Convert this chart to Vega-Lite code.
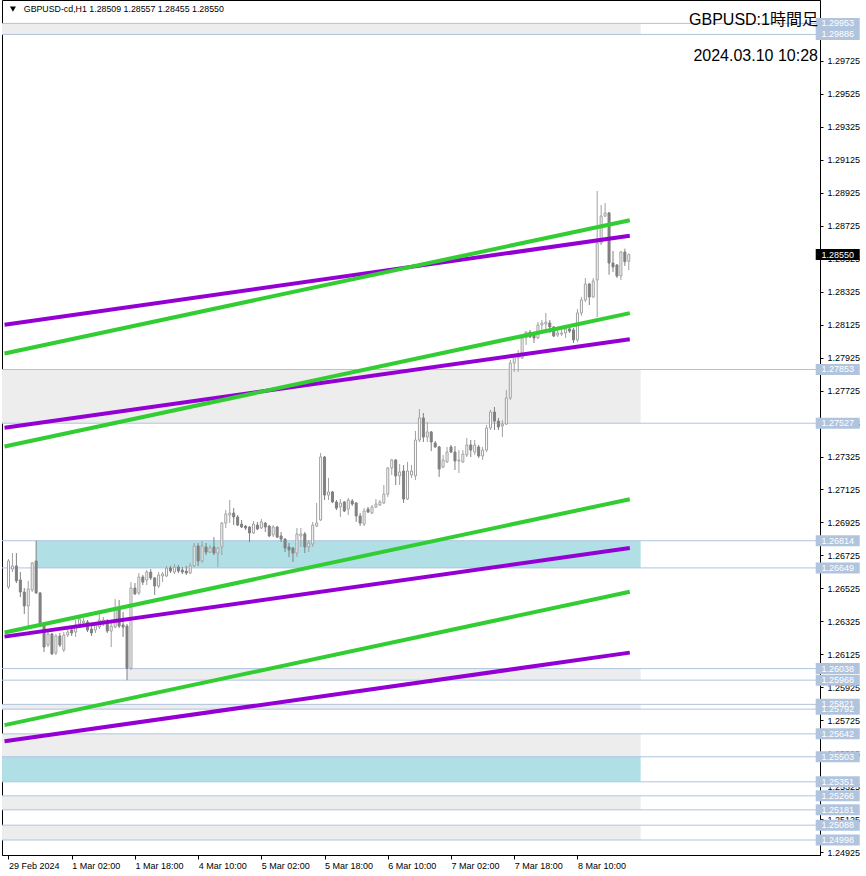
{
"$schema": "https://vega.github.io/schema/vega-lite/v6.json",
"width": 818, "height": 855,
"autosize": {"type": "none"},
"padding": {"left": 2, "top": 0, "right": 46, "bottom": 21},
"background": "white",
"config": {"view": {"stroke": "#000000", "strokeWidth": 1}, "axis": {"zindex": 0, "labelOverlap": false, "labelBound": false, "labelFlush": false, "grid": false, "title": null, "domainColor": "#000000", "tickColor": "#000000", "labelFont": "Liberation Sans", "labelFontSize": 9, "labelColor": "#000000", "tickCount": 200}},
"datasets": {
"candles": [
{"i":0,"o":1.26533,"h":1.26703,"l":1.26521,"c":1.26691},
{"i":1,"o":1.26642,"h":1.26739,"l":1.26624,"c":1.26661},
{"i":2,"o":1.26661,"h":1.26739,"l":1.26557,"c":1.26570},
{"i":3,"o":1.26576,"h":1.26624,"l":1.26472,"c":1.26503},
{"i":4,"o":1.26503,"h":1.26527,"l":1.26369,"c":1.26418},
{"i":5,"o":1.26418,"h":1.26570,"l":1.26290,"c":1.26521},
{"i":6,"o":1.26515,"h":1.26685,"l":1.26503,"c":1.26679},
{"i":7,"o":1.26691,"h":1.26814,"l":1.26491,"c":1.26497},
{"i":8,"o":1.26497,"h":1.26503,"l":1.26290,"c":1.26303},
{"i":9,"o":1.26303,"h":1.26315,"l":1.26139,"c":1.26169},
{"i":10,"o":1.26181,"h":1.26260,"l":1.26169,"c":1.26248},
{"i":11,"o":1.26248,"h":1.26254,"l":1.26120,"c":1.26127},
{"i":12,"o":1.26133,"h":1.26248,"l":1.26120,"c":1.26236},
{"i":13,"o":1.26236,"h":1.26254,"l":1.26169,"c":1.26181},
{"i":14,"o":1.26151,"h":1.26260,"l":1.26139,"c":1.26242},
{"i":15,"o":1.26242,"h":1.26284,"l":1.26230,"c":1.26260},
{"i":16,"o":1.26272,"h":1.26284,"l":1.26236,"c":1.26254},
{"i":17,"o":1.26260,"h":1.26333,"l":1.26230,"c":1.26303},
{"i":18,"o":1.26309,"h":1.26351,"l":1.26296,"c":1.26339},
{"i":19,"o":1.26315,"h":1.26345,"l":1.26303,"c":1.26327},
{"i":20,"o":1.26321,"h":1.26333,"l":1.26260,"c":1.26272},
{"i":21,"o":1.26278,"h":1.26296,"l":1.26236,"c":1.26254},
{"i":22,"o":1.26272,"h":1.26315,"l":1.26254,"c":1.26303},
{"i":23,"o":1.26290,"h":1.26381,"l":1.26278,"c":1.26333},
{"i":24,"o":1.26309,"h":1.26351,"l":1.26296,"c":1.26333},
{"i":25,"o":1.26327,"h":1.26339,"l":1.26254,"c":1.26266},
{"i":26,"o":1.26266,"h":1.26315,"l":1.26169,"c":1.26296},
{"i":27,"o":1.26290,"h":1.26460,"l":1.26284,"c":1.26400},
{"i":28,"o":1.26400,"h":1.26454,"l":1.26284,"c":1.26296},
{"i":29,"o":1.26303,"h":1.26381,"l":1.26230,"c":1.26290},
{"i":30,"o":1.26296,"h":1.26309,"l":1.25968,"c":1.26040},
{"i":31,"o":1.26040,"h":1.26563,"l":1.26030,"c":1.26527},
{"i":32,"o":1.26527,"h":1.26557,"l":1.26485,"c":1.26491},
{"i":33,"o":1.26497,"h":1.26618,"l":1.26485,"c":1.26594},
{"i":34,"o":1.26594,"h":1.26606,"l":1.26545,"c":1.26563},
{"i":35,"o":1.26576,"h":1.26636,"l":1.26545,"c":1.26624},
{"i":36,"o":1.26624,"h":1.26642,"l":1.26576,"c":1.26588},
{"i":37,"o":1.26588,"h":1.26594,"l":1.26485,"c":1.26539},
{"i":38,"o":1.26539,"h":1.26624,"l":1.26527,"c":1.26606},
{"i":39,"o":1.26600,"h":1.26624,"l":1.26563,"c":1.26612},
{"i":40,"o":1.26600,"h":1.26661,"l":1.26594,"c":1.26648},
{"i":41,"o":1.26648,"h":1.26661,"l":1.26618,"c":1.26630},
{"i":42,"o":1.26624,"h":1.26673,"l":1.26612,"c":1.26654},
{"i":43,"o":1.26654,"h":1.26667,"l":1.26618,"c":1.26630},
{"i":44,"o":1.26636,"h":1.26654,"l":1.26612,"c":1.26624},
{"i":45,"o":1.26630,"h":1.26661,"l":1.26606,"c":1.26618},
{"i":46,"o":1.26618,"h":1.26679,"l":1.26612,"c":1.26661},
{"i":47,"o":1.26661,"h":1.26800,"l":1.26654,"c":1.26782},
{"i":48,"o":1.26782,"h":1.26800,"l":1.26661,"c":1.26691},
{"i":49,"o":1.26691,"h":1.26812,"l":1.26679,"c":1.26782},
{"i":50,"o":1.26776,"h":1.26800,"l":1.26727,"c":1.26745},
{"i":51,"o":1.26745,"h":1.26788,"l":1.26739,"c":1.26770},
{"i":52,"o":1.26776,"h":1.26836,"l":1.26727,"c":1.26739},
{"i":53,"o":1.26739,"h":1.26776,"l":1.26654,"c":1.26770},
{"i":54,"o":1.26776,"h":1.26928,"l":1.26727,"c":1.26921},
{"i":55,"o":1.26921,"h":1.27000,"l":1.26891,"c":1.26976},
{"i":56,"o":1.26970,"h":1.27061,"l":1.26921,"c":1.26982},
{"i":57,"o":1.26982,"h":1.27012,"l":1.26909,"c":1.26958},
{"i":58,"o":1.26958,"h":1.26970,"l":1.26903,"c":1.26909},
{"i":59,"o":1.26915,"h":1.26940,"l":1.26891,"c":1.26897},
{"i":60,"o":1.26903,"h":1.26909,"l":1.26879,"c":1.26891},
{"i":61,"o":1.26897,"h":1.26903,"l":1.26806,"c":1.26861},
{"i":62,"o":1.26861,"h":1.26934,"l":1.26855,"c":1.26915},
{"i":63,"o":1.26909,"h":1.26928,"l":1.26879,"c":1.26885},
{"i":64,"o":1.26891,"h":1.26946,"l":1.26885,"c":1.26928},
{"i":65,"o":1.26921,"h":1.26928,"l":1.26867,"c":1.26897},
{"i":66,"o":1.26903,"h":1.26909,"l":1.26836,"c":1.26843},
{"i":67,"o":1.26849,"h":1.26909,"l":1.26836,"c":1.26897},
{"i":68,"o":1.26897,"h":1.26903,"l":1.26830,"c":1.26836},
{"i":69,"o":1.26843,"h":1.26867,"l":1.26806,"c":1.26824},
{"i":70,"o":1.26824,"h":1.26830,"l":1.26745,"c":1.26770},
{"i":71,"o":1.26776,"h":1.26800,"l":1.26715,"c":1.26758},
{"i":72,"o":1.26770,"h":1.26776,"l":1.26685,"c":1.26739},
{"i":73,"o":1.26739,"h":1.26891,"l":1.26715,"c":1.26855},
{"i":74,"o":1.26843,"h":1.26891,"l":1.26776,"c":1.26855},
{"i":75,"o":1.26855,"h":1.26867,"l":1.26739,"c":1.26776},
{"i":76,"o":1.26776,"h":1.26818,"l":1.26745,"c":1.26800},
{"i":77,"o":1.26794,"h":1.26928,"l":1.26776,"c":1.26909},
{"i":78,"o":1.26903,"h":1.27043,"l":1.26897,"c":1.26921},
{"i":79,"o":1.26940,"h":1.27346,"l":1.26934,"c":1.27322},
{"i":80,"o":1.27322,"h":1.27328,"l":1.27061,"c":1.27091},
{"i":81,"o":1.27091,"h":1.27195,"l":1.27061,"c":1.27110},
{"i":82,"o":1.27110,"h":1.27116,"l":1.27043,"c":1.27049},
{"i":83,"o":1.27049,"h":1.27061,"l":1.27000,"c":1.27012},
{"i":84,"o":1.27019,"h":1.27067,"l":1.26958,"c":1.27043},
{"i":85,"o":1.27049,"h":1.27055,"l":1.26988,"c":1.26994},
{"i":86,"o":1.27006,"h":1.27073,"l":1.26970,"c":1.27061},
{"i":87,"o":1.27055,"h":1.27067,"l":1.27025,"c":1.27037},
{"i":88,"o":1.27043,"h":1.27049,"l":1.26928,"c":1.26964},
{"i":89,"o":1.26964,"h":1.26982,"l":1.26903,"c":1.26921},
{"i":90,"o":1.26915,"h":1.27012,"l":1.26903,"c":1.26994},
{"i":91,"o":1.27006,"h":1.27019,"l":1.26982,"c":1.26988},
{"i":92,"o":1.26982,"h":1.27031,"l":1.26976,"c":1.27019},
{"i":93,"o":1.27019,"h":1.27067,"l":1.27012,"c":1.27037},
{"i":94,"o":1.27031,"h":1.27061,"l":1.27025,"c":1.27049},
{"i":95,"o":1.27043,"h":1.27152,"l":1.27037,"c":1.27097},
{"i":96,"o":1.27097,"h":1.27261,"l":1.27079,"c":1.27255},
{"i":97,"o":1.27255,"h":1.27310,"l":1.27213,"c":1.27304},
{"i":98,"o":1.27304,"h":1.27310,"l":1.27152,"c":1.27207},
{"i":99,"o":1.27207,"h":1.27279,"l":1.27152,"c":1.27231},
{"i":100,"o":1.27237,"h":1.27273,"l":1.27043,"c":1.27067},
{"i":101,"o":1.27067,"h":1.27292,"l":1.27061,"c":1.27237},
{"i":102,"o":1.27213,"h":1.27273,"l":1.27195,"c":1.27237},
{"i":103,"o":1.27207,"h":1.27480,"l":1.27182,"c":1.27425},
{"i":104,"o":1.27425,"h":1.27613,"l":1.27413,"c":1.27559},
{"i":105,"o":1.27559,"h":1.27589,"l":1.27413,"c":1.27443},
{"i":106,"o":1.27443,"h":1.27534,"l":1.27413,"c":1.27474},
{"i":107,"o":1.27474,"h":1.27480,"l":1.27358,"c":1.27413},
{"i":108,"o":1.27407,"h":1.27419,"l":1.27377,"c":1.27383},
{"i":109,"o":1.27383,"h":1.27389,"l":1.27201,"c":1.27249},
{"i":110,"o":1.27261,"h":1.27334,"l":1.27255,"c":1.27304},
{"i":111,"o":1.27292,"h":1.27383,"l":1.27286,"c":1.27352},
{"i":112,"o":1.27383,"h":1.27395,"l":1.27346,"c":1.27352},
{"i":113,"o":1.27352,"h":1.27389,"l":1.27243,"c":1.27298},
{"i":114,"o":1.27298,"h":1.27364,"l":1.27225,"c":1.27304},
{"i":115,"o":1.27292,"h":1.27364,"l":1.27286,"c":1.27340},
{"i":116,"o":1.27334,"h":1.27437,"l":1.27322,"c":1.27395},
{"i":117,"o":1.27395,"h":1.27425,"l":1.27322,"c":1.27364},
{"i":118,"o":1.27352,"h":1.27425,"l":1.27334,"c":1.27395},
{"i":119,"o":1.27383,"h":1.27395,"l":1.27316,"c":1.27328},
{"i":120,"o":1.27328,"h":1.27383,"l":1.27304,"c":1.27364},
{"i":121,"o":1.27364,"h":1.27516,"l":1.27352,"c":1.27498},
{"i":122,"o":1.27498,"h":1.27607,"l":1.27486,"c":1.27595},
{"i":123,"o":1.27595,"h":1.27625,"l":1.27486,"c":1.27540},
{"i":124,"o":1.27540,"h":1.27559,"l":1.27486,"c":1.27504},
{"i":125,"o":1.27510,"h":1.27546,"l":1.27443,"c":1.27522},
{"i":126,"o":1.27522,"h":1.27728,"l":1.27516,"c":1.27680},
{"i":127,"o":1.27680,"h":1.27911,"l":1.27668,"c":1.27892},
{"i":128,"o":1.27892,"h":1.27941,"l":1.27838,"c":1.27929},
{"i":129,"o":1.27923,"h":1.27971,"l":1.27838,"c":1.27935},
{"i":130,"o":1.27923,"h":1.28050,"l":1.27917,"c":1.28044},
{"i":131,"o":1.28044,"h":1.28086,"l":1.28002,"c":1.28080},
{"i":132,"o":1.28080,"h":1.28093,"l":1.28044,"c":1.28050},
{"i":133,"o":1.28074,"h":1.28080,"l":1.28014,"c":1.28044},
{"i":134,"o":1.28044,"h":1.28141,"l":1.28038,"c":1.28123},
{"i":135,"o":1.28123,"h":1.28153,"l":1.28074,"c":1.28135},
{"i":136,"o":1.28129,"h":1.28196,"l":1.28093,"c":1.28141},
{"i":137,"o":1.28135,"h":1.28153,"l":1.28074,"c":1.28111},
{"i":138,"o":1.28111,"h":1.28117,"l":1.28050,"c":1.28056},
{"i":139,"o":1.28062,"h":1.28105,"l":1.28050,"c":1.28074},
{"i":140,"o":1.28068,"h":1.28099,"l":1.28056,"c":1.28074},
{"i":141,"o":1.28074,"h":1.28105,"l":1.28044,"c":1.28099},
{"i":142,"o":1.28099,"h":1.28111,"l":1.28074,"c":1.28086},
{"i":143,"o":1.28093,"h":1.28105,"l":1.28014,"c":1.28032},
{"i":144,"o":1.28032,"h":1.28220,"l":1.28020,"c":1.28196},
{"i":145,"o":1.28196,"h":1.28293,"l":1.28178,"c":1.28275},
{"i":146,"o":1.28275,"h":1.28408,"l":1.28262,"c":1.28372},
{"i":147,"o":1.28372,"h":1.28378,"l":1.28244,"c":1.28293},
{"i":148,"o":1.28293,"h":1.28408,"l":1.28287,"c":1.28390},
{"i":149,"o":1.28396,"h":1.28936,"l":1.28171,"c":1.28620},
{"i":150,"o":1.28620,"h":1.28851,"l":1.28608,"c":1.28784},
{"i":151,"o":1.28784,"h":1.28863,"l":1.28778,"c":1.28803},
{"i":152,"o":1.28803,"h":1.28809,"l":1.28428,"c":1.28499},
{"i":153,"o":1.28499,"h":1.28572,"l":1.28445,"c":1.28475},
{"i":154,"o":1.28487,"h":1.28493,"l":1.28408,"c":1.28420},
{"i":155,"o":1.28420,"h":1.28572,"l":1.28396,"c":1.28566},
{"i":156,"o":1.28566,"h":1.28586,"l":1.28481,"c":1.28507},
{"i":157,"o":1.28509,"h":1.28557,"l":1.28455,"c":1.28550}
],
"zones": [
{"p1":1.29953,"p2":1.29886,"x1":-2,"x2":160,"kind":"gray"},
{"p1":1.27853,"p2":1.27527,"x1":-2,"x2":160,"kind":"gray"},
{"p1":1.26814,"p2":1.26649,"x1":7,"x2":160,"kind":"blue"},
{"p1":1.26038,"p2":1.25968,"x1":30,"x2":160,"kind":"gray"},
{"p1":1.25821,"p2":1.25792,"x1":-2,"x2":160,"kind":"gray"},
{"p1":1.25642,"p2":1.25503,"x1":-2,"x2":160,"kind":"gray"},
{"p1":1.25503,"p2":1.25351,"x1":-2,"x2":160,"kind":"blue"},
{"p1":1.25266,"p2":1.25181,"x1":-2,"x2":160,"kind":"gray"},
{"p1":1.25088,"p2":1.24998,"x1":-2,"x2":160,"kind":"gray"}
],
"levels": [
{"p":1.29953,"kind":"level"},
{"p":1.29886,"kind":"level"},
{"p":1.27853,"kind":"level"},
{"p":1.27527,"kind":"level"},
{"p":1.26814,"kind":"level"},
{"p":1.26649,"kind":"level"},
{"p":1.26038,"kind":"level"},
{"p":1.25968,"kind":"level"},
{"p":1.25821,"kind":"level"},
{"p":1.25792,"kind":"level"},
{"p":1.25642,"kind":"level"},
{"p":1.25503,"kind":"level"},
{"p":1.25351,"kind":"level"},
{"p":1.25266,"kind":"level"},
{"p":1.25181,"kind":"level"},
{"p":1.25088,"kind":"level"},
{"p":1.24998,"kind":"level"},
{"p":1.28550,"kind":"bid"}
],
"channels": [
{"id":"g1","kind":"green","i":-1,"p":1.27950},{"id":"g1","kind":"green","i":157.25,"p":1.28759},
{"id":"p1","kind":"purple","i":-1,"p":1.28125},{"id":"p1","kind":"purple","i":157.25,"p":1.28664},
{"id":"g2","kind":"green","i":-1,"p":1.27386},{"id":"g2","kind":"green","i":157.25,"p":1.28195},
{"id":"p2","kind":"purple","i":-1,"p":1.27499},{"id":"p2","kind":"purple","i":157.25,"p":1.28037},
{"id":"g3","kind":"green","i":-1,"p":1.26257},{"id":"g3","kind":"green","i":157.25,"p":1.27066},
{"id":"p3","kind":"purple","i":-1,"p":1.26232},{"id":"p3","kind":"purple","i":157.25,"p":1.26770},
{"id":"g4","kind":"green","i":-1,"p":1.25695},{"id":"g4","kind":"green","i":157.25,"p":1.26504},
{"id":"p4","kind":"purple","i":-1,"p":1.25597},{"id":"p4","kind":"purple","i":157.25,"p":1.26135}
]
},
"layer": [
{
"data": {"name": "zones"},
"mark": {"type": "rect", "clip": true},
"encoding": {
"x": {"field": "x1", "type": "quantitative", "scale": {"domain": [-0.375, 204.125], "nice": false, "zero": false},
"axis": {"title": null, "orient": "bottom", "values": [0,16,32,48,64,80,96,112,128,144], "tickCount": 200,
"labelExpr": "['29 Feb 2024','1 Mar 02:00','1 Mar 18:00','4 Mar 10:00','5 Mar 02:00','5 Mar 18:00','6 Mar 10:00','7 Mar 02:00','7 Mar 18:00','8 Mar 10:00'][round(datum.value/16)]",
"tickSize": 4, "labelAlign": "left", "labelBaseline": "top", "labelPadding": 2, "labelOverlap": false}},
"x2": {"field": "x2"},
"y": {"field": "p1", "type": "quantitative", "scale": {"domain": [1.24907, 1.30095], "nice": false, "zero": false},
"axis": {"title": null, "orient": "right", "tickCount": 200, "values": [1.24925,1.25125,1.25325,1.25525,1.25725,1.25925,1.26125,1.26325,1.26525,1.26725,1.26925,1.27125,1.27325,1.27525,1.27725,1.27925,1.28125,1.28325,1.28525,1.28725,1.28925,1.29125,1.29325,1.29525,1.29725],
"format": ".5f", "tickSize": 3, "labelPadding": 4, "labelOverlap": false, "labelBaseline": "middle"}},
"y2": {"field": "p2"},
"color": {"field": "kind", "type": "nominal", "scale": {"domain": ["gray", "blue"], "range": ["#EDEDED", "#B0E0E6"]}, "legend": null}
}
},
{
"data": {"name": "levels"},
"transform": [{"filter": "datum.kind == 'level'"}],
"mark": {"type": "rule", "clip": true, "color": "#B0C4DE", "strokeWidth": 1},
"encoding": {
"y": {"field": "p", "type": "quantitative", "scale": {"domain": [1.24907, 1.30095], "nice": false, "zero": false}, "axis": {"title": null, "labelOverlap": false, "tickCount": 200}}
}
},
{
"data": {"name": "candles"},
"mark": {"type": "rule", "clip": true, "strokeWidth": 1},
"encoding": {
"x": {"field": "i", "type": "quantitative", "scale": {"domain": [-0.375, 204.125], "nice": false, "zero": false}, "axis": {"title": null, "labelOverlap": false, "tickCount": 200}},
"y": {"field": "l", "type": "quantitative", "scale": {"domain": [1.24907, 1.30095], "nice": false, "zero": false}, "axis": {"title": null, "labelOverlap": false, "tickCount": 200}},
"y2": {"field": "h"},
"color": {"condition": {"test": "datum.c >= datum.o", "value": "#A0A0A0"}, "value": "#808080"}
}
},
{
"data": {"name": "candles"},
"mark": {"type": "bar", "clip": true, "width": 2, "strokeWidth": 1},
"encoding": {
"x": {"field": "i", "type": "quantitative", "scale": {"domain": [-0.375, 204.125], "nice": false, "zero": false}, "axis": {"title": null, "labelOverlap": false, "tickCount": 200}},
"y": {"field": "o", "type": "quantitative", "scale": {"domain": [1.24907, 1.30095], "nice": false, "zero": false}, "axis": {"title": null, "labelOverlap": false, "tickCount": 200}},
"y2": {"field": "c"},
"fill": {"condition": {"test": "datum.c >= datum.o", "value": "#FFFFFF"}, "value": "#808080"},
"stroke": {"condition": {"test": "datum.c >= datum.o", "value": "#A0A0A0"}, "value": "#808080"}
}
},
{
"data": {"name": "channels"},
"transform": [{"filter": "datum.kind == 'purple'"}],
"mark": {"type": "line", "clip": true, "strokeWidth": 4, "color": "#9400D3", "strokeCap": "butt"},
"encoding": {
"x": {"field": "i", "type": "quantitative", "scale": {"domain": [-0.375, 204.125], "nice": false, "zero": false}, "axis": {"title": null, "labelOverlap": false, "tickCount": 200}},
"y": {"field": "p", "type": "quantitative", "scale": {"domain": [1.24907, 1.30095], "nice": false, "zero": false}, "axis": {"title": null, "labelOverlap": false, "tickCount": 200}},
"detail": {"field": "id", "type": "nominal"}
}
},
{
"data": {"name": "channels"},
"transform": [{"filter": "datum.kind == 'green'"}],
"mark": {"type": "line", "clip": true, "strokeWidth": 4, "color": "#32CD32", "strokeCap": "butt"},
"encoding": {
"x": {"field": "i", "type": "quantitative", "scale": {"domain": [-0.375, 204.125], "nice": false, "zero": false}, "axis": {"title": null, "labelOverlap": false, "tickCount": 200}},
"y": {"field": "p", "type": "quantitative", "scale": {"domain": [1.24907, 1.30095], "nice": false, "zero": false}, "axis": {"title": null, "labelOverlap": false, "tickCount": 200}},
"detail": {"field": "id", "type": "nominal"}
}
},
{
"data": {"name": "levels"},
"mark": {"type": "tick", "orient": "horizontal", "clip": false, "size": 44, "thickness": 11, "opacity": 1},
"encoding": {
"x": {"datum": 209.875, "type": "quantitative", "scale": {"domain": [-0.375, 204.125], "nice": false, "zero": false}, "axis": {"title": null, "labelOverlap": false, "tickCount": 200}},
"y": {"field": "p", "type": "quantitative", "scale": {"domain": [1.24907, 1.30095], "nice": false, "zero": false}, "axis": {"title": null, "labelOverlap": false, "tickCount": 200}},
"color": {"condition": {"test": "datum.kind == 'bid'", "value": "#000000"}, "value": "#B0C4DE"}
}
},
{
"data": {"name": "levels"},
"mark": {"type": "text", "clip": false, "align": "center", "baseline": "middle", "font": "Liberation Sans", "fontSize": 9, "color": "#FFFFFF"},
"encoding": {
"x": {"datum": 209.875, "type": "quantitative", "scale": {"domain": [-0.375, 204.125], "nice": false, "zero": false}, "axis": {"title": null, "labelOverlap": false, "tickCount": 200}},
"y": {"field": "p", "type": "quantitative", "scale": {"domain": [1.24907, 1.30095], "nice": false, "zero": false}, "axis": {"title": null, "labelOverlap": false, "tickCount": 200}},
"text": {"field": "p", "type": "quantitative", "format": ".5f"}
}
},
{
"data": {"values": [{"t": "▼"}]},
"mark": {"type": "point", "shape": "triangle-down", "filled": true, "size": 36, "opacity": 1, "color": "#000000", "clip": false},
"encoding": {
"x": {"datum": 1.125, "type": "quantitative", "scale": {"domain": [-0.375, 204.125], "nice": false, "zero": false}, "axis": {"title": null, "labelOverlap": false, "tickCount": 200}},
"y": {"datum": 1.30040, "type": "quantitative", "scale": {"domain": [1.24907, 1.30095], "nice": false, "zero": false}, "axis": {"title": null, "labelOverlap": false, "tickCount": 200}}
}
},
{
"data": {"values": [{"t": "GBPUSD-cd,H1  1.28509 1.28557 1.28455 1.28550"}]},
"mark": {"type": "text", "clip": false, "align": "left", "baseline": "middle", "font": "Liberation Sans", "fontSize": 8.8, "color": "#000000"},
"encoding": {
"x": {"datum": 3.875, "type": "quantitative", "scale": {"domain": [-0.375, 204.125], "nice": false, "zero": false}, "axis": {"title": null, "labelOverlap": false, "tickCount": 200}},
"y": {"datum": 1.30040, "type": "quantitative", "scale": {"domain": [1.24907, 1.30095], "nice": false, "zero": false}, "axis": {"title": null, "labelOverlap": false, "tickCount": 200}},
"text": {"field": "t"}
}
},
{
"data": {"values": [{"t": "GBPUSD:1時間足"}]},
"mark": {"type": "text", "clip": false, "align": "right", "baseline": "middle", "font": "Liberation Sans, Noto Sans CJK JP", "fontSize": 16, "color": "#000000"},
"encoding": {
"x": {"datum": 204.875, "type": "quantitative", "scale": {"domain": [-0.375, 204.125], "nice": false, "zero": false}, "axis": {"title": null, "labelOverlap": false, "tickCount": 200}},
"y": {"datum": 1.29974, "type": "quantitative", "scale": {"domain": [1.24907, 1.30095], "nice": false, "zero": false}, "axis": {"title": null, "labelOverlap": false, "tickCount": 200}},
"text": {"field": "t"}
}
},
{
"data": {"values": [{"t": "2024.03.10 10:28"}]},
"mark": {"type": "text", "clip": false, "align": "right", "baseline": "middle", "font": "Liberation Sans, Noto Sans CJK JP", "fontSize": 16, "color": "#000000"},
"encoding": {
"x": {"datum": 204.875, "type": "quantitative", "scale": {"domain": [-0.375, 204.125], "nice": false, "zero": false}, "axis": {"title": null, "labelOverlap": false, "tickCount": 200}},
"y": {"datum": 1.29755, "type": "quantitative", "scale": {"domain": [1.24907, 1.30095], "nice": false, "zero": false}, "axis": {"title": null, "labelOverlap": false, "tickCount": 200}},
"text": {"field": "t"}
}
}
]
}
